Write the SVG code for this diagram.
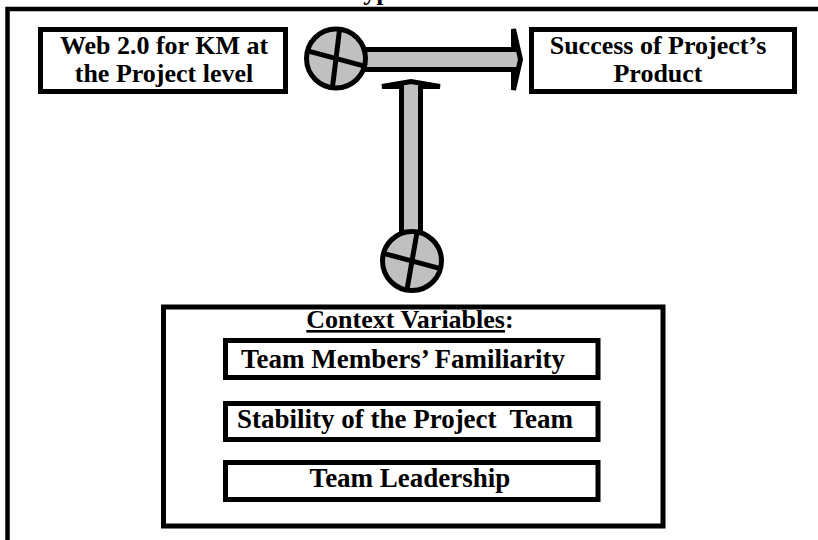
<svg xmlns="http://www.w3.org/2000/svg" width="818" height="540" viewBox="0 0 818 540">
  <style>
    .box { fill: #ffffff; stroke: #000000; stroke-width: 5; }
    .frame { fill: none; stroke: #000000; stroke-width: 4.5; }
    .pipe { fill: #c0c0c0; stroke: #000000; stroke-width: 5; stroke-linejoin: miter; stroke-miterlimit: 3; }
    .valve { fill: #c0c0c0; stroke: #000000; stroke-width: 5; }
    .cross { stroke: #000000; stroke-width: 5; stroke-linecap: butt; }
    .lbl { font-family: "Liberation Serif", "Times New Roman", serif; font-weight: bold; font-size: 26px; fill: #000000; text-anchor: middle; }
    .item { font-size: 27px; }
  </style>

  <rect width="818" height="540" fill="#ffffff"/>

  <!-- heading, mostly above the top edge -->
  <text class="lbl" x="343" y="0" style="text-anchor:start">Hypothesis</text>

  <!-- outer frame -->
  <rect class="frame" x="7.5" y="9" width="830" height="560"/>

  <!-- connectors: pipes with arrowheads -->
  <g id="connectors">
    <polygon class="pipe" points="340,49.5 513.5,49.5 513.5,29 520.5,59.5 513.5,90 513.5,69.5 340,69.5"/>
    <polygon class="pipe" points="401.5,235 401.5,86.5 382,86.5 411,81.5 440,86.5 420.5,86.5 420.5,235"/>
  </g>

  <!-- junction valves -->
  <g id="valve-top">
    <circle class="valve" cx="336" cy="58.5" r="29.5"/>
    <line class="cross" x1="307.5" y1="50.9" x2="364.5" y2="66.1"/>
    <line class="cross" x1="332.4" y1="87.8" x2="339.6" y2="29.2"/>
  </g>
  <g id="valve-bottom">
    <circle class="valve" cx="412" cy="261" r="29.5"/>
    <line class="cross" x1="383.5" y1="253.4" x2="440.5" y2="268.6"/>
    <line class="cross" x1="406.9" y1="290.1" x2="417.1" y2="231.9"/>
  </g>

  <!-- independent variable -->
  <g id="node-web20">
    <rect class="box" x="40.5" y="29.5" width="245" height="62"/>
    <text class="lbl" x="164" y="54">Web 2.0 for KM at</text>
    <text class="lbl" x="164" y="82">the Project level</text>
  </g>

  <!-- dependent variable -->
  <g id="node-success">
    <rect class="box" x="531.5" y="29.5" width="263" height="62"/>
    <text class="lbl" x="658" y="54">Success of Project’s</text>
    <text class="lbl" x="658" y="82">Product</text>
  </g>

  <!-- moderating variables -->
  <g id="node-context">
    <rect class="box" x="163.5" y="307" width="499.5" height="219"/>
    <text class="lbl" x="410" y="328"><tspan text-decoration="underline">Context Variables</tspan>:</text>
  </g>
  <g id="node-familiarity">
    <rect class="box" x="225.5" y="340.5" width="372.5" height="37"/>
    <text class="lbl item" x="403" y="368">Team Members’ Familiarity</text>
  </g>
  <g id="node-stability">
    <rect class="box" x="225.5" y="403.5" width="372.5" height="36"/>
    <text class="lbl item" x="405" y="428" style="white-space:pre">Stability of the Project  Team</text>
  </g>
  <g id="node-leadership">
    <rect class="box" x="225.5" y="462.5" width="372.5" height="37"/>
    <text class="lbl item" x="410" y="487">Team Leadership</text>
  </g>
</svg>
